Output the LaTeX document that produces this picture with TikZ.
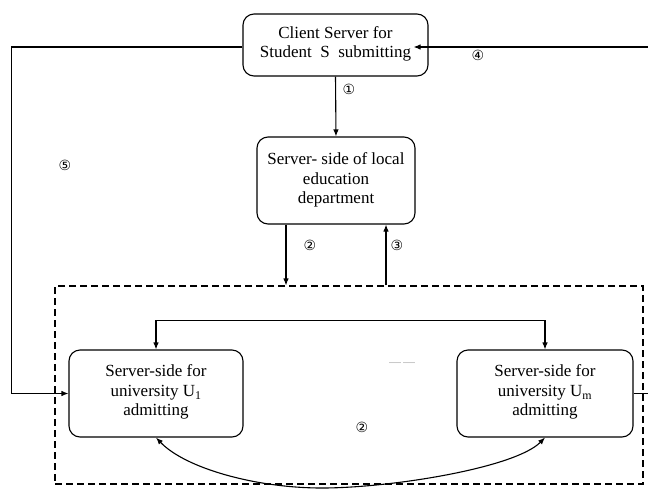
\documentclass[tikz,border=0pt]{standalone}
\usepackage{fontspec}
\setmainfont{Liberation Serif}
\newfontfamily\circfont{DejaVu Sans}
\usetikzlibrary{arrows.meta}
\begin{document}
\begin{tikzpicture}[x=1pt,y=-1pt,
  box/.style={draw, line width=1.1pt, rounded corners=11pt, align=center,
    inner sep=0pt, font=\fontsize{17}{19.5}\selectfont},
  line/.style={line width=1.1pt},
  conn/.style={line, -{Latex[length=7pt,width=5.5pt]}},
  biconn/.style={line, {Latex[length=7pt,width=5.5pt]}-{Latex[length=7pt,width=5.5pt]}},
  num/.style={font=\circfont\fontsize{14}{14}\selectfont, inner sep=0pt},
  frame/.style={draw, line width=1.1pt, dash pattern=on 7pt off 4pt, inner sep=0pt},
]
\useasboundingbox (0,0) rectangle (648,488);

% servers
\node[box, minimum width=185pt, minimum height=62pt] (C) at (335.5,45)
  {Client Server for\\Student\ \ S\ \ submitting\rule[-6pt]{0pt}{0pt}};
\node[box, minimum width=158pt, minimum height=87pt] (D) at (336,180.5)
  {Server- side of local\\education\\department\rule[-4pt]{0pt}{0pt}};
\node[frame, minimum width=588pt, minimum height=198pt] (F) at (349,385) {};
\node[box, minimum width=174pt, minimum height=87pt] (L) at (156,393.5)
  {Server-side for\\university U\textsubscript{1}\\admitting\rule[-6pt]{0pt}{0pt}};
\node[box, minimum width=176pt, minimum height=87pt] (R) at (545,393.5)
  {Server-side for\\university U\textsubscript{m}\\admitting\rule[-6pt]{0pt}{0pt}};

% free ends at the picture border
\coordinate (rin) at (648,47);
\coordinate (rout) at (648,393.5);
\coordinate (bot) at (322,488);

% connectors
\draw[conn] (C.south) -- (D.north);
\draw[conn] ([xshift=-50pt]D.south) -- ([xshift=-50pt]D.south |- F.north);
\draw[conn] ([xshift=50pt]D.south |- F.north) -- ([xshift=50pt]D.south);
\draw[biconn] (L.north) -- ++(0,-29) -| (R.north);
\draw[conn] ([yshift=-2pt]C.west) -- ++(-231,0) |- (L.west);
\draw[conn] (rin) -- ([xshift=-15pt,yshift=-2pt]C.east);
\draw[line] (R.east) -- (rout);
\draw[biconn] (L.south) .. controls (185,468) and (255,488) .. (bot)
  .. controls (390,488) and (515,468) .. (R.south);

% step labels
\node[num] (n1) at (349,89) {①};
\node[num] (n4) at (478,55) {④};
\node[num] (n5) at (65,165) {⑤};
\node[num] (n2) at (310,245) {②};
\node[num] (n3) at (397,245) {③};
\node[num] (n2b) at (362,427) {②};
\node[font=\fontsize{8}{8}\selectfont, inner sep=0pt, text=black!70] (dots) at (402,363) {......\ ......};
\end{tikzpicture}
\end{document}
